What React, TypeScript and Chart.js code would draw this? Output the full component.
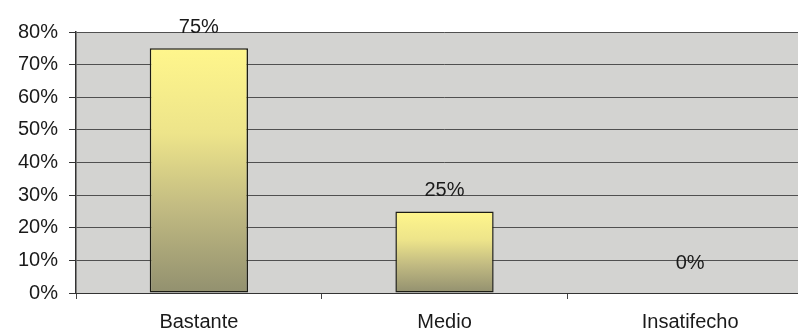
import React, { useEffect, useRef } from "react";
import { Chart, registerables } from "chart.js";

Chart.register(...registerables);

const categories = ["Bastante", "Medio", "Insatifecho"];
const percentages = [75, 25, 0];
const yTicks = [0, 10, 20, 30, 40, 50, 60, 70, 80];

const FONT = "'Liberation Sans', Arial, sans-serif";

// Grey plotting area behind the bars
const plotBackground = {
  id: "plotBackground",
  beforeDraw(chart: any) {
    const { ctx, chartArea } = chart;
    if (!chartArea) return;
    ctx.save();
    ctx.fillStyle = "#d3d3d1";
    ctx.fillRect(chartArea.left, chartArea.top, chartArea.right - chartArea.left, chartArea.bottom - chartArea.top);
    ctx.restore();
  },
};

// Percentage labels printed above every bar
const valueLabels = {
  id: "valueLabels",
  afterDatasetsDraw(chart: any) {
    const { ctx } = chart;
    const meta = chart.getDatasetMeta(0);
    ctx.save();
    ctx.font = `20px ${FONT}`;
    ctx.fillStyle = "#1a1a1a";
    ctx.textAlign = "center";
    ctx.textBaseline = "alphabetic";
    meta.data.forEach((bar: any, i: number) => {
      const v = percentages[i];
      const offset = v === 0 ? 24 : 15;
      ctx.fillText(`${v}%`, bar.x, bar.y - offset);
    });
    ctx.restore();
  },
};

function barGradient(context: any) {
  const chart = context.chart;
  const { ctx, chartArea, scales } = chart;
  if (!chartArea || !scales || !scales.y) return "#e6dc88";
  const v = percentages[context.dataIndex] ?? 0;
  const top = scales.y.getPixelForValue(v);
  const bottom = scales.y.getPixelForValue(0);
  if (!isFinite(top) || !isFinite(bottom) || bottom - top < 1) return "#e6dc88";
  const g = ctx.createLinearGradient(0, top, 0, bottom);
  g.addColorStop(0, "#fff68c");
  g.addColorStop(0.35, "#ede48a");
  g.addColorStop(0.65, "#c2bb82");
  g.addColorStop(1, "#92906f");
  return g;
}

export default function App() {
  const canvasRef = useRef<HTMLCanvasElement | null>(null);

  useEffect(() => {
    const canvas = canvasRef.current;
    if (!canvas) return;
    const chart = new Chart(canvas, {
      type: "bar",
      data: {
        labels: categories,
        datasets: [
          {
            data: percentages,
            backgroundColor: barGradient as any,
            borderColor: "#1c1c14",
            borderWidth: 1.5,
            borderSkipped: false,
            barPercentage: 0.4,
            categoryPercentage: 1,
          },
        ],
      },
      options: {
        animation: false,
        responsive: false,
        maintainAspectRatio: false,
        layout: { padding: { top: 32, left: 7, right: 3, bottom: 0 } },
        plugins: {
          legend: { display: false },
          tooltip: { enabled: false },
        },
        scales: {
          x: {
            offset: true,
            grid: {
              display: true,
              drawOnChartArea: false,
              drawTicks: true,
              tickLength: 6,
              color: "#444444",
              offset: true,
            },
            border: { display: true, color: "#333333", width: 1 },
            ticks: {
              color: "#1a1a1a",
              padding: 11,
              font: { family: FONT, size: 20 },
            },
          },
          y: {
            min: 0,
            max: 80,
            afterBuildTicks: (axis: any) => {
              axis.ticks = yTicks.map((value) => ({ value }));
            },
            grid: {
              color: "#505050",
              lineWidth: 1,
              drawTicks: true,
              tickLength: 7,
              tickColor: "#333333",
            },
            border: { display: true, color: "#333333", width: 1.5 },
            ticks: {
              color: "#1a1a1a",
              padding: 11,
              font: { family: FONT, size: 20 },
              callback: (v: any) => `${v}%`,
            },
          },
        },
      },
      plugins: [plotBackground, valueLabels],
    });
    return () => chart.destroy();
  }, []);

  return (
    <div
      style={{
        position: "fixed",
        left: 0,
        top: 0,
        width: 798,
        height: 335,
        overflow: "hidden",
        background: "#ffffff",
      }}
    >
      <canvas ref={canvasRef} width={816} height={345} style={{ display: "block" }} />
    </div>
  );
}
